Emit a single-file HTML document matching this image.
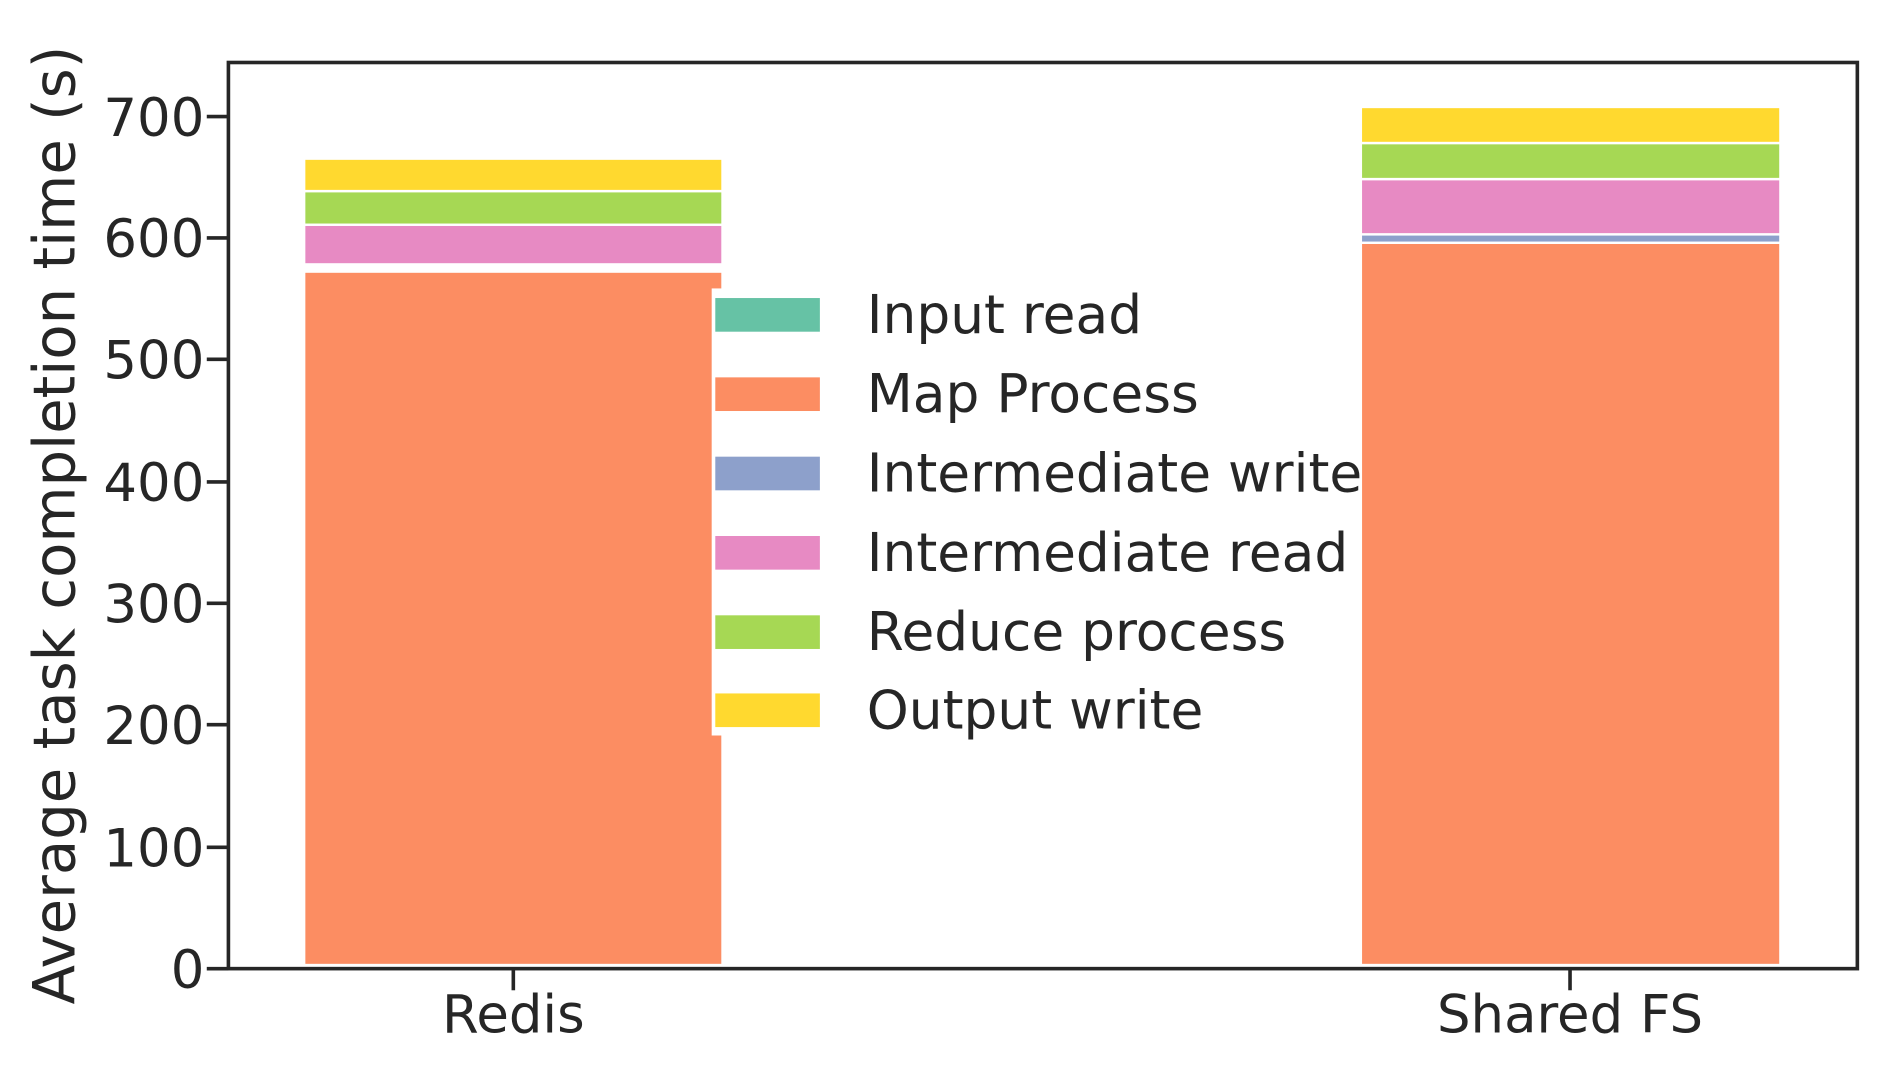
<!DOCTYPE html>
<html><head><meta charset="utf-8"><style>html,body{margin:0;padding:0;background:#fff}svg{display:block}</style></head>
<body>
<svg width="1885" height="1072" viewBox="0 0 1568 892" preserveAspectRatio="none" xmlns="http://www.w3.org/2000/svg" font-family="DejaVu Sans, Liberation Sans, sans-serif" fill="#262626">
<rect width="1568" height="892" fill="#fff"/>
<g stroke="#fff" stroke-width="2">
<rect x="253" y="226" width="348" height="577" fill="#fc8d62"/>
<rect x="253" y="187" width="348" height="33" fill="#e78ac3"/>
<rect x="253" y="159" width="348" height="28" fill="#a6d854"/>
<rect x="253" y="132" width="348" height="27" fill="#ffd92f"/>
<rect x="1132" y="202" width="349" height="601" fill="#fc8d62"/>
<rect x="1132" y="195" width="349" height="7" fill="#8da0cb"/>
<rect x="1132" y="149" width="349" height="46" fill="#e78ac3"/>
<rect x="1132" y="119" width="349" height="30" fill="#a6d854"/>
<rect x="1132" y="89" width="349" height="30" fill="#ffd92f"/>
</g>
<rect x="592" y="240" width="520" height="372" fill="#fff"/>
<g stroke="#fff" stroke-width="2">
<rect x="594" y="247" width="89" height="30" fill="#66c2a5"/>
<rect x="594" y="313" width="89" height="30" fill="#fc8d62"/>
<rect x="594" y="379" width="89" height="30" fill="#8da0cb"/>
<rect x="594" y="445" width="89" height="30" fill="#e78ac3"/>
<rect x="594" y="511" width="89" height="30" fill="#a6d854"/>
<rect x="594" y="576" width="89" height="30" fill="#ffd92f"/>
</g>
<g font-size="44.4">
<text x="721" y="277">Input read</text>
<text x="721" y="343">Map Process</text>
<text x="721" y="409">Intermediate write</text>
<text x="721" y="475">Intermediate read</text>
<text x="721" y="541">Reduce process</text>
<text x="721" y="606">Output write</text>
</g>
<rect x="190" y="52" width="1355" height="754" fill="none" stroke="#262626" stroke-width="3"/>
<g stroke="#262626" stroke-width="3">
<line x1="172" y1="806" x2="190" y2="806"/><line x1="172" y1="705" x2="190" y2="705"/>
<line x1="172" y1="603" x2="190" y2="603"/><line x1="172" y1="502" x2="190" y2="502"/>
<line x1="172" y1="401" x2="190" y2="401"/><line x1="172" y1="299" x2="190" y2="299"/>
<line x1="172" y1="198" x2="190" y2="198"/><line x1="172" y1="97" x2="190" y2="97"/>
<line x1="427" y1="806" x2="427" y2="824"/><line x1="1306" y1="806" x2="1306" y2="824"/>
</g>
<g font-size="44" text-anchor="end">
<text x="170" y="822">0</text><text x="170" y="721">100</text><text x="170" y="619">200</text>
<text x="170" y="518">300</text><text x="170" y="417">400</text><text x="170" y="315">500</text>
<text x="170" y="214">600</text><text x="170" y="113">700</text>
</g>
<g font-size="44" text-anchor="middle">
<text x="427" y="859">Redis</text><text x="1306" y="859">Shared FS</text>
</g>
<text transform="translate(62,437) rotate(-90)" font-size="48" text-anchor="middle">Average task completion time (s)</text>
</svg>
</body></html>
